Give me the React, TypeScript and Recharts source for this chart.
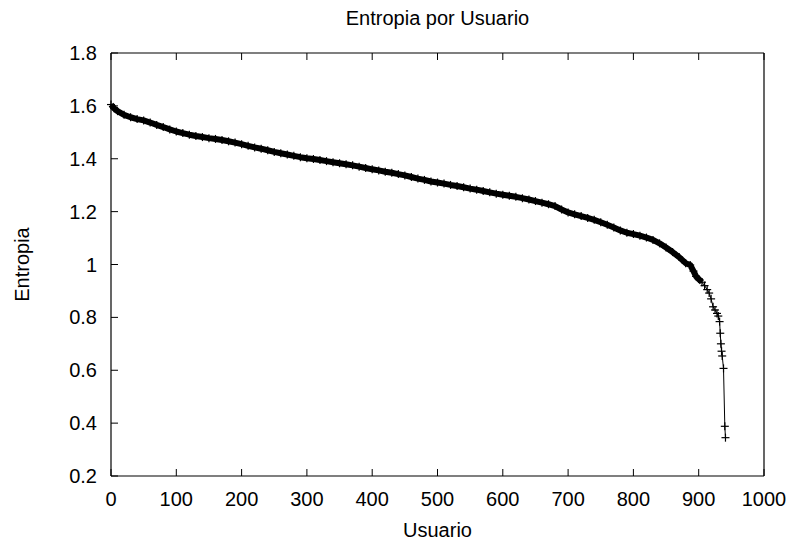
import React from 'react';
import { LineChart, Line, XAxis, YAxis } from 'recharts';

// Entropy per user, users sorted by decreasing entropy
const users: number[] = [
  0, 5, 10, 20, 30, 40, 50, 60, 70, 80, 90, 100, 110, 120, 130, 140, 150, 160, 170, 180, 190,
  200, 210, 220, 230, 240, 250, 260, 270, 280, 290, 300, 310, 320, 330, 340, 350, 360, 370, 380, 390,
  400, 410, 420, 430, 440, 450, 460, 470, 480, 490, 500, 510, 520, 530, 540, 550, 560, 570, 580, 590,
  600, 610, 620, 630, 640, 650, 660, 670, 680, 690, 700, 710, 720, 730, 740, 750, 760, 770, 780, 790,
  800, 810, 820, 830, 840, 850, 860, 870, 880, 887, 892, 896, 900, 905, 909, 913, 916, 919, 922, 925,
  928, 930, 932, 933, 934, 935, 936, 938, 940, 941,
];

const entropy: number[] = [
  1.605, 1.59, 1.58, 1.566, 1.557, 1.55, 1.545, 1.537, 1.528, 1.52, 1.511, 1.503, 1.497, 1.491, 1.486, 1.482, 1.478, 1.475, 1.471, 1.466, 1.461,
  1.455, 1.449, 1.443, 1.438, 1.432, 1.426, 1.421, 1.416, 1.411, 1.406, 1.402, 1.399, 1.395, 1.391, 1.387, 1.383, 1.379, 1.375, 1.37, 1.365,
  1.36, 1.356, 1.351, 1.347, 1.342, 1.337, 1.331, 1.325, 1.32, 1.314, 1.31, 1.306, 1.301, 1.297, 1.292, 1.287, 1.283, 1.278, 1.273, 1.268,
  1.264, 1.26, 1.256, 1.251, 1.246, 1.24, 1.234, 1.228, 1.221, 1.208, 1.197, 1.19, 1.183, 1.176, 1.169, 1.16, 1.15, 1.14, 1.129, 1.12,
  1.115, 1.109, 1.102, 1.093, 1.08, 1.064, 1.047, 1.028, 1.005, 0.998, 0.975, 0.955, 0.945, 0.933, 0.92, 0.905, 0.892, 0.87, 0.84, 0.828,
  0.815, 0.805, 0.784, 0.74, 0.7, 0.672, 0.654, 0.607, 0.388, 0.345,
];

const xTicks: number[] = [0, 100, 200, 300, 400, 500, 600, 700, 800, 900, 1000];
const yTicks: number[] = [0.2, 0.4, 0.6, 0.8, 1, 1.2, 1.4, 1.6, 1.8];

// Users up to this rank are so closely packed that their markers merge into a solid band
const DENSE_UNTIL = 905;

const data = users.map((u, i) => ({
  user: u,
  entropy: entropy[i],
  dense: u <= DENSE_UNTIL ? entropy[i] : null,
}));

const FONT = '"Liberation Sans", Arial, Helvetica, sans-serif';
const tickStyle = { fontSize: 20, fill: '#000', fontFamily: FONT };

// gnuplot-style "+" point marker
const PlusDot = (props: any) => {
  const { cx, cy } = props;
  if (cx == null || cy == null) return null;
  const r = 4;
  return (
    <g>
      <line x1={cx - r} y1={cy} x2={cx + r} y2={cy} stroke="#000" strokeWidth={1.2} />
      <line x1={cx} y1={cy - r} x2={cx} y2={cy + r} stroke="#000" strokeWidth={1.2} />
    </g>
  );
};

export default function App() {
  return (
    <div style={{ position: 'absolute', left: 0, top: 0, width: 792, height: 545, background: '#fff' }}>
      <LineChart width={792} height={545} data={data} margin={{ top: 0, right: 0, bottom: 0, left: 0 }}>
        <XAxis
          xAxisId="bottom"
          dataKey="user"
          type="number"
          domain={[0, 1000]}
          ticks={xTicks}
          orientation="bottom"
          height={69}
          tickSize={-7}
          tickMargin={23}
          interval={0}
          stroke="#000"
          tick={tickStyle}
          axisLine={{ stroke: '#000', strokeWidth: 1.2 }}
          tickLine={{ stroke: '#000' }}
          label={{ value: 'Usuario', position: 'insideBottom', offset: 8, style: { fontSize: 20, fill: '#000', fontFamily: FONT } }}
        />
        <XAxis
          xAxisId="top"
          dataKey="user"
          type="number"
          domain={[0, 1000]}
          ticks={xTicks}
          orientation="top"
          height={53}
          tickSize={-7}
          tickFormatter={() => ''}
          interval={0}
          stroke="#000"
          axisLine={{ stroke: '#000', strokeWidth: 1.2 }}
          tickLine={{ stroke: '#000' }}
          label={{ value: 'Entropia por Usuario', position: 'insideTop', offset: 11, style: { fontSize: 20, fill: '#000', fontFamily: FONT } }}
        />
        <YAxis
          yAxisId="left"
          type="number"
          domain={[0.2, 1.8]}
          ticks={yTicks}
          orientation="left"
          width={111}
          tickSize={-7}
          tickMargin={21}
          interval={0}
          stroke="#000"
          tick={tickStyle}
          axisLine={{ stroke: '#000', strokeWidth: 1.2 }}
          tickLine={{ stroke: '#000' }}
          label={{ value: 'Entropia', angle: -90, position: 'insideLeft', offset: 22, style: { textAnchor: 'middle', fontSize: 20, fill: '#000', fontFamily: FONT } }}
        />
        <YAxis
          yAxisId="right"
          type="number"
          domain={[0.2, 1.8]}
          ticks={yTicks}
          orientation="right"
          width={28}
          tickSize={-7}
          tickFormatter={() => ''}
          interval={0}
          stroke="#000"
          axisLine={{ stroke: '#000', strokeWidth: 1.2 }}
          tickLine={{ stroke: '#000' }}
        />
        {/* merged markers of the densely packed users */}
        <Line
          xAxisId="bottom"
          yAxisId="left"
          type="linear"
          dataKey="dense"
          stroke="#000"
          strokeWidth={6}
          strokeLinejoin="round"
          dot={false}
          activeDot={false}
          connectNulls={false}
          isAnimationActive={false}
        />
        <Line
          xAxisId="bottom"
          yAxisId="left"
          type="linear"
          dataKey="entropy"
          stroke="#000"
          strokeWidth={1}
          dot={<PlusDot />}
          activeDot={false}
          isAnimationActive={false}
        />
      </LineChart>
    </div>
  );
}
